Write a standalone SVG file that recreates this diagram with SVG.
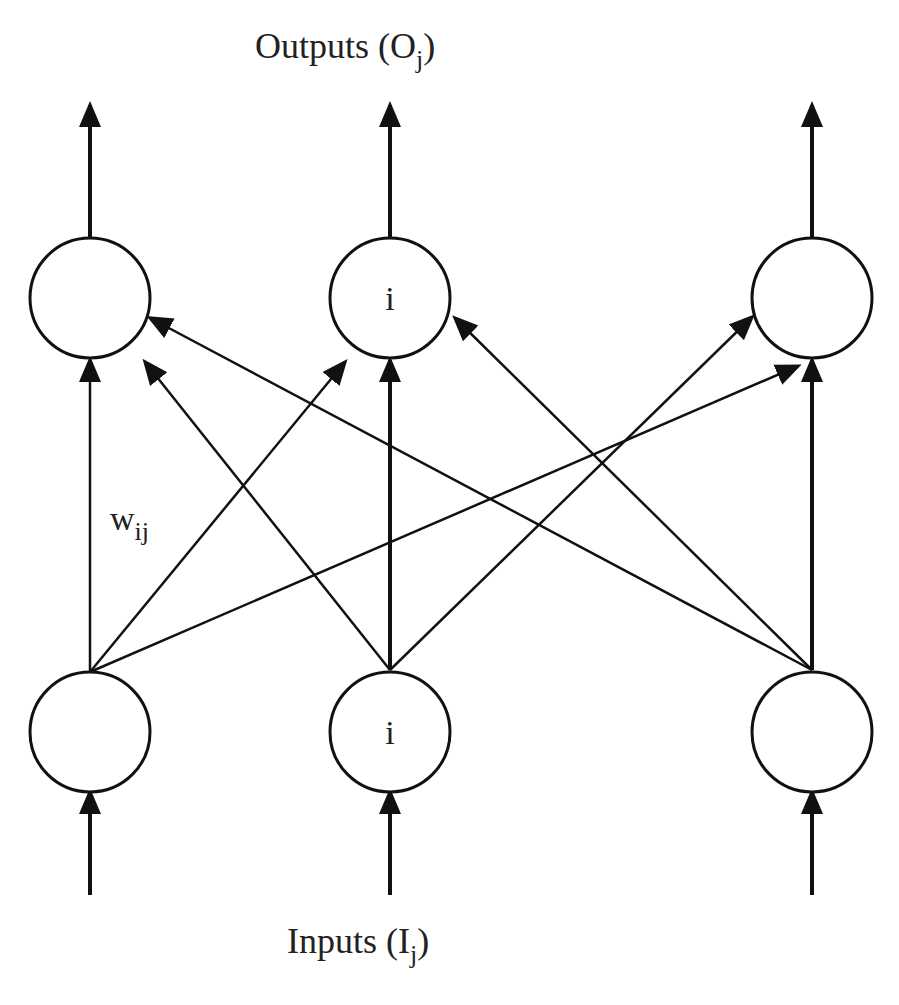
<svg xmlns="http://www.w3.org/2000/svg" width="899" height="1005" viewBox="0 0 899 1005">
<style>
.n{fill:#fff;stroke:#111;stroke-width:3}
.t{font-family:"Liberation Serif",serif;fill:#222}
.v{stroke:#111;stroke-width:4;fill:none}
.d{stroke:#111;stroke-width:2.5;fill:none}
</style>
<defs>
<marker id="a" markerWidth="8" markerHeight="8" refX="7" refY="4" orient="auto" markerUnits="userSpaceOnUse" viewBox="0 0 8 8"><path d="M0,0L8,4L0,8z" fill="#111"/></marker>
<marker id="b" markerWidth="26" markerHeight="26" refX="22" refY="13" orient="auto" markerUnits="userSpaceOnUse" viewBox="0 0 26 26"><path d="M0,2L26,13L0,24z" fill="#111"/></marker>
</defs>
<rect width="899" height="1005" fill="#fff"/>
<g id="connectors">
<path class="v" d="M90,238V105" marker-end="url(#b)"/>
<path class="v" d="M390,238V105" marker-end="url(#b)"/>
<path class="v" d="M812,238V105" marker-end="url(#b)"/>
<path class="v" d="M90,895V792" marker-end="url(#b)"/>
<path class="v" d="M390,895V792" marker-end="url(#b)"/>
<path class="v" d="M812,895V792" marker-end="url(#b)"/>
<path class="d" d="M90,672V360" marker-end="url(#b)" style="stroke-width:2.5"/>
<path class="d" d="M90,672L345,362" marker-end="url(#b)"/>
<path class="d" d="M90,672L798,366" marker-end="url(#b)"/>
<path class="d" d="M390,670L145,362" marker-end="url(#b)"/>
<path class="v" d="M390,670V360" marker-end="url(#b)"/>
<path class="d" d="M390,670L752,317" marker-end="url(#b)"/>
<path class="d" d="M812,670L150,318" marker-end="url(#b)"/>
<path class="d" d="M812,670L455,318" marker-end="url(#b)"/>
<path class="v" d="M812,670V360" marker-end="url(#b)"/>
</g>
<g id="o1"><circle class="n" cx="90" cy="298" r="60"/></g>
<g id="o2"><circle class="n" cx="390" cy="298" r="60"/><text class="t" x="390" y="310" font-size="34" text-anchor="middle">i</text></g>
<g id="o3"><circle class="n" cx="812" cy="298" r="60"/></g>
<g id="i1"><circle class="n" cx="90" cy="732" r="60"/></g>
<g id="i2"><circle class="n" cx="390" cy="732" r="60"/><text class="t" x="390" y="744" font-size="34" text-anchor="middle">i</text></g>
<g id="i3"><circle class="n" cx="812" cy="732" r="60"/></g>
<g id="labels">
<text class="t" x="255" y="58" font-size="36">Outputs (O<tspan font-size="26" dy="10">j</tspan><tspan dy="-10">)</tspan></text>
<text class="t" x="287" y="953" font-size="36">Inputs (I<tspan font-size="26" dy="10">j</tspan><tspan dy="-10">)</tspan></text>
<text class="t" x="110" y="530" font-size="34">w<tspan font-size="26" dy="10">ij</tspan></text>
</g>
</svg>
